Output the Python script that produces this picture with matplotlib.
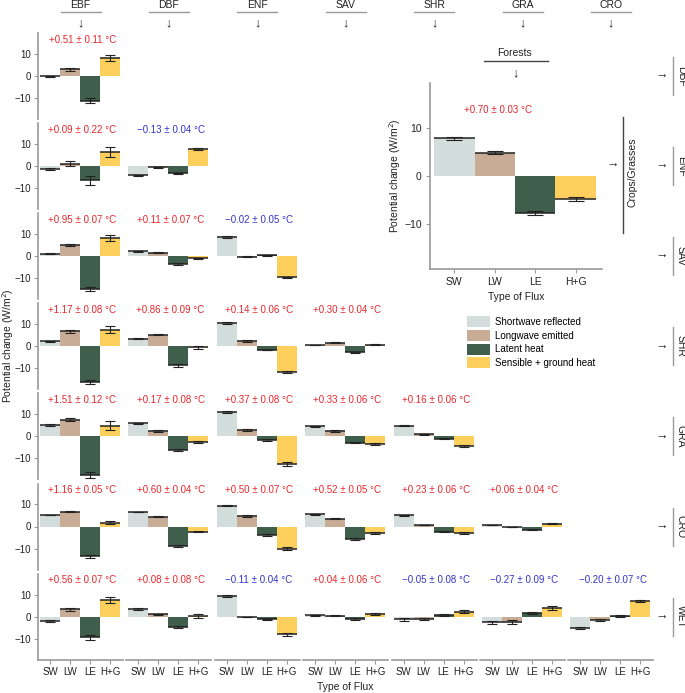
import matplotlib
matplotlib.use('Agg')
from matplotlib import pyplot as plt
from matplotlib.lines import Line2D
from matplotlib.patches import Patch

plt.rcParams['font.family'] = ['Liberation Sans', 'DejaVu Sans']

# Nomes dos tipos de vegetação e dos fluxos.
cols = ['EBF', 'DBF', 'ENF', 'SAV', 'SHR', 'GRA', 'CRO']
rows = ['DBF', 'ENF', 'SAV', 'SHR', 'GRA', 'CRO', 'WET']
flux_labels = ['SW', 'LW', 'LE', 'H+G']
flux_names = ['Shortwave reflected', 'Longwave emitted', 'Latent heat', 'Sensible + ground heat']
flux_colors = ['#d3dddb', '#c9ac95', '#3f5e4c', '#fdd05e']

# Valores por linha (um sub-lista por coluna): SW, LW, LE, H+G em W/m2.
dbf_flux = [[-0.2, 3.0, -11.2, 8.0]]
enf_flux = [[-1.3, 1.0, -6.5, 6.5], [-4.2, -0.5, -3.3, 7.9]]
sav_flux = [[1.2, 5.2, -14.8, 8.2], [2.2, 1.6, -3.5, -1.0], [8.7, -0.2, 0.4, -9.6]]
shr_flux = [[2.2, 6.8, -16.2, 7.5], [3.4, 5.3, -8.7, -0.5], [10.6, 2.4, -1.7, -11.7],
            [0.5, 1.6, -2.8, 0.7]]
gra_flux = [[5.2, 7.6, -17.5, 4.8], [6.0, 2.4, -6.0, -2.5], [11.0, 3.0, -1.7, -12.5],
            [4.5, 2.4, -2.8, -3.6], [4.8, 0.9, -1.0, -4.5]]
cro_flux = [[5.2, 6.8, -13.4, 1.8], [6.6, 4.5, -9.0, -2.3], [9.5, 4.8, -3.8, -10.0],
            [5.5, 3.5, -5.5, -2.8], [5.0, 0.6, -2.3, -3.0], [0.6, -0.3, -1.5, 1.2]]
wet_flux = [[-2.1, 3.3, -9.4, 7.6], [3.5, 1.0, -4.7, 0.3], [9.2, -0.3, -1.3, -8.0],
            [0.5, 0.3, -1.2, 1.2], [-1.3, -1.0, 0.8, 2.2], [-2.6, -2.4, 1.6, 4.0],
            [-5.2, -1.5, 0.3, 7.0]]

# Incertezas correspondentes.
dbf_err = [[0.2, 0.6, 1.0, 1.4]]
enf_err = [[0.3, 1.1, 2.0, 2.3], [0.2, 0.2, 0.3, 0.4]]
sav_err = [[0.2, 0.5, 0.8, 1.2], [0.2, 0.3, 0.5, 0.4], [0.3, 0.1, 0.1, 0.3]]
shr_err = [[0.3, 0.6, 1.0, 1.5], [0.2, 0.4, 0.6, 0.8], [0.3, 0.5, 0.2, 0.5], [0.1, 0.2, 0.3, 0.2]]
gra_err = [[0.6, 0.7, 1.4, 2.0], [0.2, 0.3, 0.5, 0.6], [0.4, 0.5, 0.4, 0.7], [0.2, 0.3, 0.3, 0.4],
           [0.2, 0.1, 0.2, 0.4]]
cro_err = [[0.2, 0.3, 0.7, 0.7], [0.2, 0.2, 0.4, 0.4], [0.2, 0.4, 0.5, 0.6], [0.2, 0.2, 0.4, 0.5],
           [0.1, 0.1, 0.4, 0.4], [0.1, 0.1, 0.2, 0.2]]
wet_err = [[0.4, 0.6, 1.0, 1.3], [0.4, 0.3, 0.6, 0.8], [0.4, 0.1, 0.3, 0.6], [0.3, 0.2, 0.4, 0.5],
           [0.5, 0.4, 0.4, 0.6], [0.8, 0.8, 0.5, 0.9], [0.3, 0.3, 0.3, 0.5]]

# Mudança de temperatura (°C) e sua incerteza.
dbf_dt = [(0.51, 0.11)]
enf_dt = [(0.09, 0.22), (-0.13, 0.04)]
sav_dt = [(0.95, 0.07), (0.11, 0.07), (-0.02, 0.05)]
shr_dt = [(1.17, 0.08), (0.86, 0.09), (0.14, 0.06), (0.30, 0.04)]
gra_dt = [(1.51, 0.12), (0.17, 0.08), (0.37, 0.08), (0.33, 0.06), (0.16, 0.06)]
cro_dt = [(1.16, 0.05), (0.60, 0.04), (0.50, 0.07), (0.52, 0.05), (0.23, 0.06), (0.06, 0.04)]
wet_dt = [(0.56, 0.07), (0.08, 0.08), (-0.11, 0.04), (0.04, 0.06), (-0.05, 0.08),
          (-0.27, 0.09), (-0.20, 0.07)]

# Painel Florestas -> Culturas/Pastagens.
inset_flux = [7.9, 4.9, -7.8, -4.8]
inset_err = [0.3, 0.3, 0.4, 0.5]
inset_dt = (0.70, 0.03)

all_flux = [dbf_flux, enf_flux, sav_flux, shr_flux, gra_flux, cro_flux, wet_flux]
all_err = [dbf_err, enf_err, sav_err, shr_err, gra_err, cro_err, wet_err]
all_dt = [dbf_dt, enf_dt, sav_dt, shr_dt, gra_dt, cro_dt, wet_dt]

W, H = 685, 693
RED, BLUE, GREY = '#e8262b', '#3434c8', '#9a9a9a'
FS = 7


def px(x, y):
	return x / W, 1 - y / H


def dt_text(dt):
	val, err = dt
	sign = '+' if val >= 0 else '\u2212'
	return '%s%.2f \u00b1 %.2f \u00b0C' % (sign, abs(val), err), (RED if val >= 0 else BLUE)


def draw_bars(ax, vals, errs, capw):
	x = range(len(vals))
	ax.bar(x, vals, width=1.0, color=flux_colors, linewidth=0)
	for i, (v, e) in enumerate(zip(vals, errs)):
		ax.plot([i - 0.5, i + 0.5], [v, v], color='#222222', lw=1.1, solid_capstyle='butt')
	ax.errorbar(list(x), vals, yerr=errs, fmt='none', ecolor='#222222', elinewidth=0.8,
				capsize=capw, capthick=0.8)
	ax.set_ylim(-19.5, 19.5)
	ax.set_xlim(-0.6, 3.65)


def style_axes(ax, show_y, show_x):
	for s in ['top', 'right']:
		ax.spines[s].set_visible(False)
	ax.spines['left'].set_visible(show_y)
	ax.spines['bottom'].set_visible(show_x)
	for s in ['left', 'bottom']:
		ax.spines[s].set_color(GREY)
		ax.spines[s].set_linewidth(1.2)
	ax.tick_params(colors=GREY, labelcolor='#222222', labelsize=FS, length=3, width=0.8, pad=2)
	ax.set_yticks([-10, 0, 10])
	ax.set_yticklabels(['\u221210', '0', '10'])
	ax.set_xticks(range(4))
	ax.set_xticklabels(flux_labels)
	if not show_y:
		ax.tick_params(axis='y', left=False, labelleft=False)
	if not show_x:
		ax.tick_params(axis='x', bottom=False, labelbottom=False)


fig = plt.figure(figsize=(W / 100, H / 100), dpi=100)

# Grade triangular de painéis.
for r, rname in enumerate(rows):
	for c in range(r + 1):
		left, top = 38 + 88.4 * c, 33 + 90.1 * r
		ax = fig.add_axes([left / W, 1 - (top + 86) / H, 85 / W, 86 / H])
		ax.patch.set_alpha(0)
		draw_bars(ax, all_flux[r][c], all_err[r][c], 3.5)
		style_axes(ax, c == 0, r == len(rows) - 1)
		txt, col = dt_text(all_dt[r][c])
		ax.text(0.52, 0.92, txt, transform=ax.transAxes, ha='center', va='center',
				fontsize=FS, color=col)

# Cabeçalhos das colunas.
for c, cname in enumerate(cols):
	cx = 38 + 88.4 * c + 42.5
	fig.text(*px(cx, 5), cname, ha='center', va='center', fontsize=7.5, color='#222222')
	fig.add_artist(Line2D([(cx - 20) / W, (cx + 20) / W], [1 - 12 / H] * 2, color=GREY, lw=1))
	fig.text(*px(cx, 23), '\u2193', ha='center', va='center', fontsize=9, color='#222222')

# Rótulos das linhas à direita.
for r, rname in enumerate(rows):
	cy = 76 + 90.1 * r
	fig.text(*px(662, cy), '\u2192', ha='center', va='center', fontsize=9, color='#222222')
	fig.add_artist(Line2D([673 / W] * 2, [1 - (cy - 19) / H, 1 - (cy + 19) / H], color=GREY, lw=1))
	fig.text(*px(681, cy), rname, ha='center', va='center', rotation=270, fontsize=7.5,
			 color='#222222')

# Painel destacado: Florestas -> Culturas/Pastagens.
ax = fig.add_axes([430 / W, 1 - 269 / H, 172 / W, 186 / H])
ax.patch.set_alpha(0)
draw_bars(ax, inset_flux, inset_err, 6)
style_axes(ax, True, True)
ax.tick_params(labelsize=7.5, pad=3)
txt, col = dt_text(inset_dt)
ax.text(0.395, 0.855, txt, transform=ax.transAxes, ha='center', va='center', fontsize=FS, color=col)
fig.text(*px(395, 176), 'Potential change (W/m$^2$)', rotation=90, ha='center', va='center',
		 fontsize=7.5, color='#222222')
fig.text(*px(516, 297), 'Type of Flux', ha='center', va='center', fontsize=7.5, color='#222222')
fig.text(*px(514, 53), 'Forests', ha='center', va='center', fontsize=7.5, color='#222222')
fig.add_artist(Line2D([484 / W, 548 / W], [1 - 61 / H] * 2, color='#444444', lw=1))
fig.text(*px(515, 73), '\u2193', ha='center', va='center', fontsize=9, color='#222222')
fig.text(*px(613, 165), '\u2192', ha='center', va='center', fontsize=9, color='#222222')
fig.add_artist(Line2D([623 / W] * 2, [1 - 117 / H, 1 - 233 / H], color='#444444', lw=1))
fig.text(*px(633, 172), 'Crops/Grasses', rotation=90, ha='center', va='center', fontsize=7.5,
		 color='#222222')

# Legenda dos fluxos.
handles = [Patch(facecolor=fc, edgecolor='none') for fc in flux_colors]
fig.legend(handles, flux_names, loc='upper left', bbox_to_anchor=px(467, 316), frameon=False,
		   fontsize=FS, handlelength=2.4, handleheight=1.35, labelspacing=0.3, handletextpad=0.45,
		   borderpad=0, borderaxespad=0)

# Rótulos gerais.
fig.text(*px(8, 346), 'Potential change (W/m$^2$)', rotation=90, ha='center', va='center',
		 fontsize=7.5, color='#222222')
fig.text(*px(345, 687), 'Type of Flux', ha='center', va='center', fontsize=7.5, color='#222222')

fig.savefig('out.png', dpi=100)
